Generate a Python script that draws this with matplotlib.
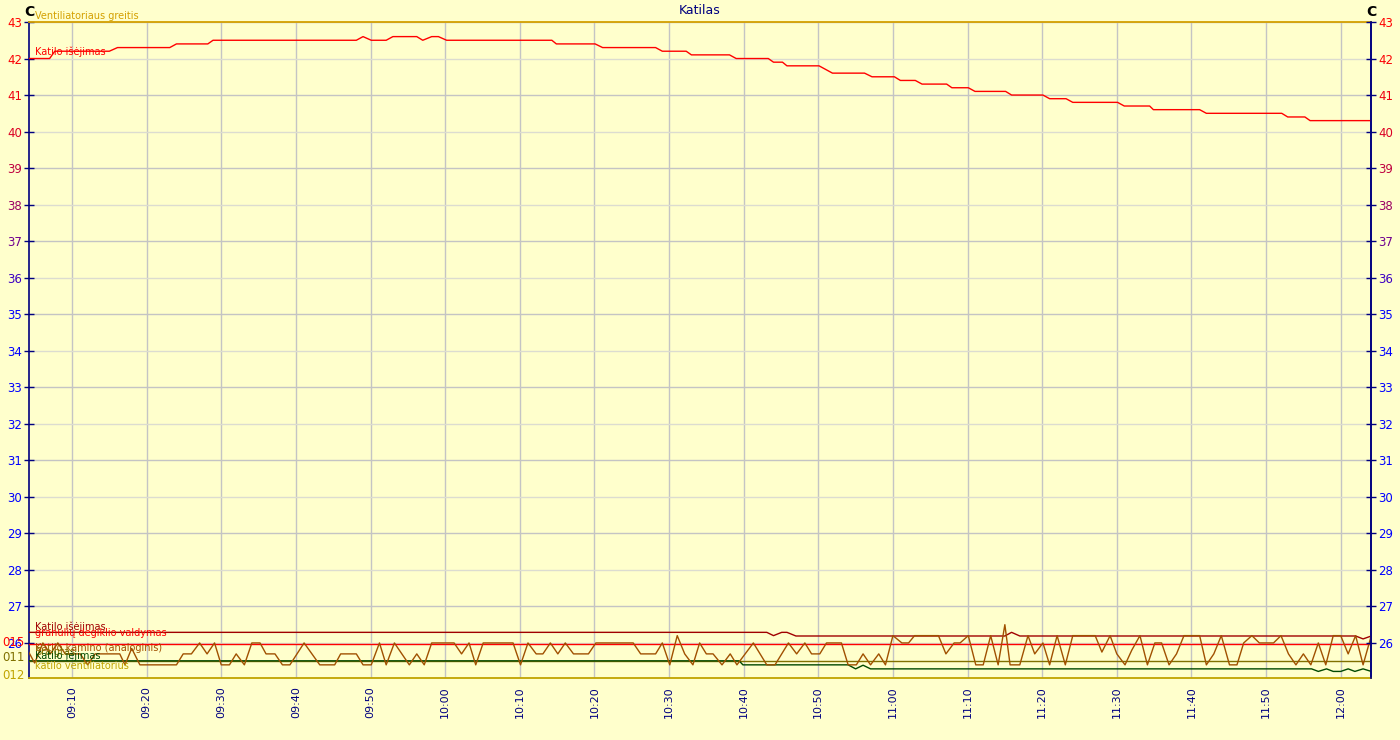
import matplotlib
matplotlib.use("Agg")
import matplotlib.pyplot as plt
import matplotlib.transforms as mtransforms
import numpy as np

# Laikas skaičiuojamas minutėmis nuo 09:00
TIME_START = 4.24
TIME_END = 184.06

tick_minutes = [10, 20, 30, 40, 50, 60, 70, 80, 90, 100, 110, 120, 130, 140, 150, 160, 170, 180]
tick_labels = ["09:10", "09:20", "09:30", "09:40", "09:50", "10:00", "10:10", "10:20", "10:30",
               "10:40", "10:50", "11:00", "11:10", "11:20", "11:30", "11:40", "11:50", "12:00"]
temp_ticks = list(range(26, 44))

# Katilo išėjimas (viršutinė raudona kreivė, C)
out_t = [4.2, 7.0, 7.7, 15.0, 16.1, 23.1, 24.0, 28.2, 28.9, 48.1, 49.0, 50.1, 52.1, 53.0,
         56.2, 57.0, 58.2, 59.1, 60.2, 74.3, 74.9, 80.1, 81.1, 88.2, 89.1, 92.3, 93.0, 98.1,
         99.0, 103.3, 104.0, 105.2, 105.8, 110.1, 111.9, 116.2, 117.2, 120.2, 121.0, 123.0,
         123.9, 127.2, 127.9, 130.1, 131.0, 135.1, 135.9, 140.1, 141.0, 143.2, 144.1, 150.1,
         151.0, 154.4, 154.9, 161.1, 162.0, 172.1, 172.9, 175.2, 175.9, 184.1]
out_v = [42.0, 42.0, 42.2, 42.2, 42.3, 42.3, 42.4, 42.4, 42.5, 42.5, 42.6, 42.5, 42.5, 42.6,
         42.6, 42.5, 42.6, 42.6, 42.5, 42.5, 42.4, 42.4, 42.3, 42.3, 42.2, 42.2, 42.1, 42.1,
         42.0, 42.0, 41.9, 41.9, 41.8, 41.8, 41.6, 41.6, 41.5, 41.5, 41.4, 41.4,
         41.3, 41.3, 41.2, 41.2, 41.1, 41.1, 41.0, 41.0, 40.9, 40.9, 40.8, 40.8,
         40.7, 40.7, 40.6, 40.6, 40.5, 40.5, 40.4, 40.4, 40.3, 40.3]

# Apatinės kreivės (kitos skalės, perskaičiuotos į kairės ašies vienetus)
out2_t = [4.2, 103.1, 104.0, 105.1, 105.8, 107.0, 135.0, 135.9, 137.0, 182.0, 183.0, 184.1]
out2_v = [26.29, 26.29, 26.2, 26.29, 26.29, 26.19, 26.19, 26.29, 26.19, 26.19, 26.11, 26.19]

burner_t = [4.2, 184.1]
burner_v = [25.98, 25.98]

auger_t = [4.2, 184.1]
auger_v = [25.51, 25.51]

in_t = [4.2, 99.4, 99.9, 114.0, 115.0, 116.0, 117.0, 176.1, 177.0, 178.1, 179.0, 180.0,
        181.0, 181.9, 183.0, 184.1]
in_v = [25.51, 25.51, 25.40, 25.40, 25.29, 25.39, 25.29, 25.29, 25.22, 25.29, 25.22, 25.22,
        25.29, 25.22, 25.29, 25.22]

fan_t = [4.2, 184.1]
fan_v = [25.04, 25.04]

fan_speed_t = [4.2, 184.1]
fan_speed_v = [43.0, 43.0]

chimney_t = [4.2, 5.0, 6.1, 7.1, 8.1, 9.1, 11.1, 12.1, 13.1, 16.4, 17.1, 18.0, 19.1, 24.0,
             24.9, 26.0, 27.1, 28.1, 29.1, 30.0, 31.1, 32.0, 33.1, 34.1, 35.2, 36.0, 37.2,
             38.2, 39.2, 41.1, 43.2, 45.2, 46.0, 48.1, 49.0, 50.1, 51.2, 52.1, 53.2, 55.2,
             56.2, 57.2, 58.2, 61.2, 62.2, 63.2, 64.1, 65.1, 69.1, 70.1, 71.1, 72.2, 73.1,
             74.1, 75.1, 76.1, 77.2, 79.2, 80.2, 85.2, 86.2, 88.2, 89.1, 90.1, 91.1, 92.1,
             93.2, 94.1, 95.0, 95.9, 97.1, 98.2, 99.1, 101.3, 103.1, 104.2, 106.0, 107.1,
             108.2, 109.1, 110.2, 111.1, 113.1, 114.0, 115.1, 116.0, 117.0, 118.1, 119.0,
             120.0, 121.2, 122.1, 122.9, 126.1, 127.1, 128.2, 129.0, 130.1, 131.1, 132.1,
             133.1, 134.1, 135.0, 135.7, 137.0, 138.1, 139.0, 140.1, 141.0, 142.0, 143.1,
             144.1, 147.1, 148.0, 149.1, 150.0, 151.1, 152.0, 153.1, 154.1, 155.1, 156.0,
             157.0, 158.0, 159.0, 161.1, 162.0, 163.0, 164.0, 165.1, 166.1, 167.0, 168.1,
             169.1, 171.0, 172.0, 173.0, 174.0, 175.0, 176.0, 177.0, 178.0, 179.0, 180.0,
             181.0, 182.0, 183.0, 184.1]
chimney_v = [25.75, 25.45, 26.0, 25.7, 26.0, 25.7, 25.7, 25.4, 25.7, 25.7, 25.4, 25.85, 25.4, 25.4,
             25.7, 25.7, 26.0, 25.7, 26.0, 25.4, 25.4, 25.7, 25.4, 26.0, 26.0, 25.7, 25.7,
             25.4, 25.4, 26.0, 25.4, 25.4, 25.7, 25.7, 25.4, 25.4, 26.0, 25.4, 26.0, 25.4,
             25.7, 25.4, 26.0, 26.0, 25.7, 26.0, 25.4, 26.0, 26.0, 25.4, 26.0, 25.7, 25.7,
             26.0, 25.7, 26.0, 25.7, 25.7, 26.0, 26.0, 25.7, 25.7, 26.0, 25.4, 26.2, 25.7,
             25.4, 26.0, 25.7, 25.7, 25.4, 25.7, 25.4, 26.0, 25.4, 25.4, 26.0, 25.7,
             26.0, 25.7, 25.7, 26.0, 26.0, 25.4, 25.4, 25.7, 25.4, 25.7, 25.4,
             26.2, 26.0, 26.0, 26.2, 26.2, 25.7, 26.0, 26.0, 26.2, 25.4, 25.4,
             26.2, 25.4, 26.5, 25.4, 25.4, 26.2, 25.7, 26.0, 25.4, 26.2, 25.4,
             26.2, 26.2, 25.75, 26.2, 25.7, 25.4, 25.8, 26.2, 25.4, 26.0, 26.0,
             25.4, 25.7, 26.2, 26.2, 25.4, 25.7, 26.2, 25.4, 25.4, 26.0, 26.2,
             26.0, 26.0, 26.2, 25.7, 25.4, 25.7, 25.4, 26.0, 25.4, 26.2, 26.2,
             25.7, 26.2, 25.4, 26.2]

BG = "#ffffcc"
NAVY = "#000080"
RED = "#ff0000"
DARK_RED = "#a00000"
BROWN = "#a05000"
OLIVE = "#807000"
GREEN = "#004800"
YELLOW = "#c0a400"
GOLD = "#d4a000"


def label_color(v):
    # kairės/dešinės ašies skaičių spalva: raudona viršuje, mėlyna apačioje
    f = np.clip((43 - v) / 8.0, 0, 1) ** 2
    return (0.9 * (1 - f) + 0.1 * (1 - f), 0, f)


def plot_katilas():
    fig = plt.figure(figsize=(14, 7.4), dpi=100, facecolor=BG)
    ax = fig.add_axes([29 / 1400, 1 - 678 / 740, (1371 - 29) / 1400, (678 - 22) / 740])
    ax.set_facecolor(BG)

    ax.set_xlim(TIME_START, TIME_END)
    ax.set_ylim(25.04, 43.0)

    # Tinklelis
    ax.set_axisbelow(True)
    ax.set_xticks(tick_minutes)
    ax.set_xticklabels(tick_labels, rotation=90, color=NAVY, fontsize=8, va="top")
    ax.set_yticks(temp_ticks)
    ax.grid(True, linewidth=1.0)
    for line in ax.get_xgridlines():
        line.set_color("#c4c4c4")
    for v, line in zip(temp_ticks, ax.get_ygridlines()):
        line.set_color("#c4c4c4" if v % 2 else "#dcdcd0")

    ax.tick_params(axis="x", length=0, pad=6)
    ax.tick_params(axis="y", direction="inout", length=7, width=1, color=NAVY,
                   labelsize=8.5, pad=1.5)
    for v, lab in zip(temp_ticks, ax.get_yticklabels()):
        lab.set_color(label_color(v))

    for side in ["top", "bottom"]:
        ax.spines[side].set_visible(False)
    ax.spines["left"].set_color(NAVY)
    ax.spines["right"].set_color(NAVY)
    ax.spines["left"].set_linewidth(1.2)
    ax.spines["right"].set_linewidth(1.2)

    # Dešinė ašis su tais pačiais skaičiais
    ax2 = ax.twinx()
    ax2.set_ylim(ax.get_ylim())
    ax2.set_yticks(temp_ticks)
    ax2.tick_params(axis="y", direction="inout", length=7, width=1, color=NAVY,
                    labelsize=8.5, pad=1.5)
    for v, lab in zip(temp_ticks, ax2.get_yticklabels()):
        lab.set_color(label_color(v))
    for side in ["top", "bottom", "left"]:
        ax2.spines[side].set_visible(False)
    ax2.spines["right"].set_color(NAVY)
    ax2.spines["right"].set_linewidth(1.2)

    # Kreivės
    lw = 1.0
    ax.plot(fan_speed_t, fan_speed_v, color=GOLD, lw=1.3, clip_on=False, zorder=3)
    ax.plot(fan_t, fan_v, color=YELLOW, lw=1.3, clip_on=False, zorder=3)
    ax.plot(auger_t, auger_v, color=OLIVE, lw=lw, zorder=3)
    ax.plot(in_t, in_v, color=GREEN, lw=lw, zorder=4)
    ax.plot(burner_t, burner_v, color=RED, lw=lw, zorder=4)
    ax.plot(out2_t, out2_v, color=DARK_RED, lw=lw, zorder=4)
    ax.plot(chimney_t, chimney_v, color=BROWN, lw=lw, zorder=5)
    ax.plot(out_t, out_v, color=RED, lw=lw, zorder=5)

    # Kreivių pavadinimai kairėje
    trans = mtransforms.blended_transform_factory(ax.transAxes, ax.transData)
    x0 = 6 / 1342
    names = [
        ("Ventiliatoriaus greitis", 43.16, GOLD),
        ("Katilo išėjimas", 42.18, RED),
        ("Katilo išėjimas", 26.44, DARK_RED),
        ("granulių degiklio valdymas", 26.28, RED),
        ("Katilo kamino (analoginis)", 25.85, BROWN),
        ("Sraigtas", 25.76, OLIVE),
        ("Katilo įėjimas", 25.64, GREEN),
        ("katilo ventiliatorius", 25.37, YELLOW),
    ]
    for text, y, c in names:
        ax.text(x0, y, text, color=c, fontsize=7, va="center", ha="left",
                transform=trans, clip_on=False, zorder=6)

    # Kitų skalių žymės kairėje
    xl = -4 / 1342
    for text, y, c in [("015", 26.0, RED), ("011", 25.6, OLIVE), ("012", 25.1, YELLOW)]:
        ax.text(xl, y, text, color=c, fontsize=8.5, va="center", ha="right",
                transform=trans, clip_on=False)

    # Pavadinimas ir vienetai
    fig.text(0.5, 1 - 11 / 740, "Katilas", color=NAVY, fontsize=9, ha="center", va="center")
    fig.text(29 / 1400, 1 - 12 / 740, "C", color="black", fontsize=10, fontweight="bold",
             ha="center", va="center")
    fig.text(1371 / 1400, 1 - 12 / 740, "C", color="black", fontsize=10, fontweight="bold",
             ha="center", va="center")

    fig.savefig("out.png", dpi=100, facecolor=BG)


if __name__ == "__main__":
    plot_katilas()
